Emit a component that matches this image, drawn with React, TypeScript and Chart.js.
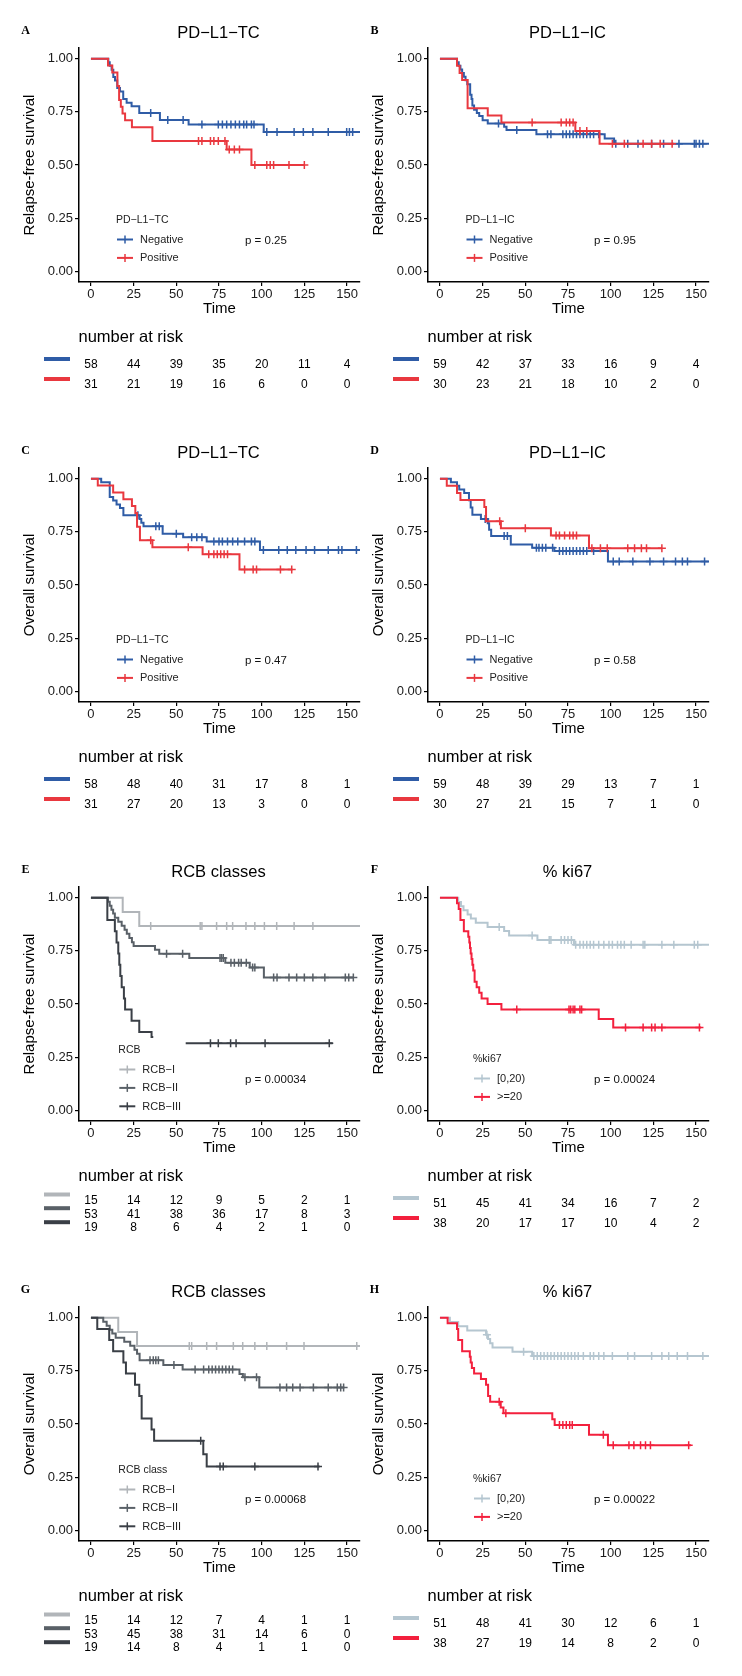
import React, { useEffect, useRef } from "react";
import { Chart, registerables } from "chart.js";

Chart.register(...registerables);

const FONT = '"Liberation Sans", Arial, Helvetica, sans-serif';
const SERIF = '"Liberation Serif", "DejaVu Serif", serif';

const X_TICKS = [0, 25, 50, 75, 100, 125, 150];
const Y_TICKS = [0, 0.25, 0.5, 0.75, 1];
const RISK_TIMES = [0, 25, 50, 75, 100, 125, 150];

const BLUE = "#2f5ca6";
const RED = "#e9383f";
const KI_LO = "#b5c6d0";
const KI_HI = "#f3203d";
const RCB1 = "#b1b5b9";
const RCB2 = "#596067";
const RCB3 = "#3a3f46";

// ---------- Panel A : PD-L1-TC, relapse-free ----------
const A_NEG_T = [0, 10.2, 11, 12.1, 13.1, 14.1, 15.4, 17, 18.9, 20.9, 23.8, 28.3, 40.4, 57.2, 101.2, 160];
const A_NEG_S = [1, 0.983, 0.966, 0.948, 0.914, 0.897, 0.862, 0.845, 0.81, 0.793, 0.776, 0.745, 0.712, 0.69, 0.655, 0.655];
const A_NEG_CENSOR = [35, 45, 54, 65, 74.6, 77, 79.5, 82, 84.6, 87, 89.5, 91.2, 94, 95.5, 103, 109, 119, 124.4, 130, 139, 149.8, 151.4, 153.3];
const A_NEG_RISK = [58, 44, 39, 35, 20, 11, 4];
const A_POS_T = [0, 10, 12.5, 15.5, 16.5, 17.5, 18.5, 20, 24, 36, 79.5, 94, 125];
const A_POS_S = [1, 0.968, 0.935, 0.871, 0.806, 0.774, 0.742, 0.71, 0.677, 0.613, 0.573, 0.5, 0.5];
const A_POS_CENSOR = [63, 65, 70, 72, 74.6, 78.5, 81, 84, 87, 96, 103, 105, 107, 116, 125];
const A_POS_RISK = [31, 21, 19, 16, 6, 0, 0];

// ---------- Panel B : PD-L1-IC, relapse-free ----------
const B_NEG_T = [0, 10, 11, 12, 13, 14, 15, 16, 17.7, 18.5, 19, 20, 21.6, 23, 25, 28, 37.6, 39, 56.5, 96.5, 102, 160];
const B_NEG_S = [1, 0.983, 0.966, 0.949, 0.932, 0.915, 0.898, 0.88, 0.83, 0.81, 0.78, 0.76, 0.745, 0.73, 0.71, 0.695, 0.68, 0.665, 0.645, 0.625, 0.6, 0.6];
const B_NEG_CENSOR = [34.3, 45, 63, 65, 72, 74, 76, 78, 80, 82, 84, 86, 88, 90, 93, 103, 110, 116, 124, 131, 140, 149, 150, 152, 154];
const B_NEG_RISK = [59, 42, 37, 33, 16, 9, 4];
const B_POS_T = [0, 10, 11.5, 13, 16.2, 28, 36, 79.3, 93.5, 137];
const B_POS_S = [1, 0.967, 0.933, 0.9, 0.767, 0.733, 0.7, 0.66, 0.6, 0.6];
const B_POS_CENSOR = [54, 71, 74, 76, 78, 82, 86, 101, 108, 119, 124, 129, 136];
const B_POS_RISK = [30, 23, 21, 18, 10, 2, 0];

// ---------- Panel C : PD-L1-TC, overall ----------
const C_NEG_T = [0, 6, 11, 13, 15, 17, 19, 28.5, 29.5, 30.8, 42, 54, 67.8, 99, 160];
const C_NEG_S = [1, 0.983, 0.914, 0.897, 0.879, 0.862, 0.828, 0.81, 0.793, 0.776, 0.741, 0.724, 0.705, 0.665, 0.665];
const C_NEG_CENSOR = [27.5, 38, 40, 50, 59, 62, 65, 72, 75, 77, 80, 83, 86, 90, 94, 96, 101, 110, 115, 120, 126, 131, 139, 145, 147, 155.5];
const C_NEG_RISK = [58, 48, 40, 31, 17, 8, 1];
const C_POS_T = [0, 4, 13, 19, 24, 26, 27, 28.7, 36, 65.4, 87, 118];
const C_POS_S = [1, 0.968, 0.935, 0.903, 0.871, 0.839, 0.774, 0.71, 0.677, 0.645, 0.573, 0.573];
const C_POS_CENSOR = [35, 57, 69, 72, 74, 76, 78, 80, 90, 95, 97, 111, 117.6];
const C_POS_RISK = [31, 27, 20, 13, 3, 0, 0];

// ---------- Panel D : PD-L1-IC, overall ----------
const D_NEG_T = [0, 6.4, 10, 11.3, 14.2, 17, 18, 19, 24, 28, 28.8, 30, 41.5, 54, 67, 98.4, 160];
const D_NEG_S = [1, 0.983, 0.966, 0.949, 0.932, 0.898, 0.864, 0.83, 0.81, 0.79, 0.76, 0.73, 0.69, 0.675, 0.66, 0.61, 0.61];
const D_NEG_CENSOR = [26.5, 37.6, 39.5, 56.5, 58, 60, 62, 66, 70, 72, 74, 76, 78, 80, 82, 84, 86, 90, 101.5, 105, 113, 123, 131, 138, 142, 145, 155];
const D_NEG_RISK = [59, 48, 39, 29, 13, 7, 1];
const D_POS_T = [0, 4, 10, 12, 26, 27, 35.7, 65, 87.3, 130];
const D_POS_S = [1, 0.967, 0.933, 0.9, 0.867, 0.8, 0.767, 0.733, 0.673, 0.673];
const D_POS_CENSOR = [35, 50, 68, 70, 73, 76, 78, 80, 89, 94, 98, 110, 114, 118, 121, 130];
const D_POS_RISK = [30, 27, 21, 15, 7, 1, 0];

// ---------- Panel E : RCB classes, relapse-free ----------
const E_R1_T = [0, 18.6, 28.3, 160];
const E_R1_S = [1, 0.933, 0.867, 0.867];
const E_R1_CENSOR = [35, 64, 65, 73.6, 79.5, 83, 90.8, 96, 101.6, 108.8, 119, 130];
const E_R1_RISK = [15, 14, 12, 9, 5, 2, 1];
const E_R2_T = [0, 10, 11, 12, 13, 14, 16, 18, 19.7, 21, 22.5, 24, 25, 37.5, 40, 57.6, 78.7, 93, 101.3, 153.7];
const E_R2_S = [1, 0.981, 0.962, 0.943, 0.925, 0.906, 0.887, 0.868, 0.849, 0.83, 0.81, 0.79, 0.773, 0.755, 0.736, 0.716, 0.694, 0.672, 0.625, 0.625];
const E_R2_CENSOR = [44.3, 53.7, 75.6, 76.5, 77.5, 82, 84, 86.5, 88, 91, 94.7, 96, 107, 109, 116, 120.5, 125, 130, 137, 149, 151, 153.7];
const E_R2_RISK = [53, 41, 38, 36, 17, 8, 3];
const E_R3_T = [0, 9.6, 14, 15, 16, 16.6, 17.2, 18, 19.3, 20, 23.8, 28.3, 35.5, 36.5, 46, 55.5, 141.6];
const E_R3_S = [1, 0.895, 0.842, 0.789, 0.737, 0.684, 0.632, 0.579, 0.526, 0.474, 0.421, 0.368, 0.345, 0.345, null, 0.316, 0.316];
const E_R3_CENSOR = [70, 74.6, 81.8, 85, 102, 139.6];
const E_R3_RISK = [19, 8, 6, 4, 2, 1, 0];

// ---------- Panel F : % ki67, relapse-free ----------
const F_LO_T = [0, 10.7, 12.3, 13.8, 16.2, 18.1, 21, 27.9, 37.6, 40.5, 57.1, 78.5, 160];
const F_LO_S = [1, 0.98, 0.96, 0.941, 0.921, 0.902, 0.882, 0.862, 0.843, 0.822, 0.801, 0.779, 0.779];
const F_LO_CENSOR = [34.7, 54, 64, 65, 71, 73, 75, 77, 79.5, 82, 84, 86, 88, 90, 93, 96, 99, 101, 104, 106, 108, 112, 119, 120, 130, 137, 149, 151];
const F_LO_RISK = [51, 45, 41, 34, 16, 7, 2];
const F_HI_T = [0, 10, 11, 12, 14, 16.6, 17.2, 17.6, 18, 18.5, 19, 19.5, 20.3, 21.5, 23, 24.4, 27.9, 36, 93, 101.5, 153];
const F_HI_S = [1, 0.974, 0.947, 0.895, 0.842, 0.816, 0.789, 0.763, 0.737, 0.711, 0.684, 0.658, 0.605, 0.579, 0.553, 0.526, 0.5, 0.474, 0.43, 0.39, 0.39];
const F_HI_CENSOR = [45, 75.6, 76.6, 78, 79, 82, 83, 108.7, 119, 124, 126, 130, 152];
const F_HI_RISK = [38, 20, 17, 17, 10, 4, 2];

// ---------- Panel G : RCB classes, overall ----------
const G_R1_T = [0, 16, 27, 160];
const G_R1_S = [1, 0.933, 0.867, 0.867];
const G_R1_CENSOR = [57.6, 59, 67.8, 73.6, 83.4, 88.9, 96, 103, 114.6, 124.8, 155.7];
const G_R1_RISK = [15, 14, 12, 7, 4, 1, 1];
const G_R2_T = [0, 7.2, 9.2, 11, 12.5, 14.5, 19.5, 23, 25.5, 27, 28.5, 42.4, 53.7, 87, 89, 98.6, 148];
const G_R2_S = [1, 0.981, 0.962, 0.943, 0.925, 0.906, 0.887, 0.868, 0.849, 0.83, 0.8, 0.777, 0.756, 0.735, 0.72, 0.672, 0.672];
const G_R2_CENSOR = [34.6, 36.5, 38, 39.5, 48.6, 61, 66, 69, 71, 73, 75, 77, 79, 81, 83, 90.2, 97, 110.7, 114.6, 118.2, 122.5, 130.3, 139, 144.3, 146.3, 148];
const G_R2_RISK = [53, 45, 38, 31, 14, 6, 0];
const G_R3_T = [0, 3.7, 10.7, 13, 19, 20.5, 25.8, 28.3, 29.7, 35.5, 37, 65.8, 67.8, 134];
const G_R3_S = [1, 0.947, 0.895, 0.842, 0.789, 0.737, 0.684, 0.632, 0.526, 0.474, 0.421, 0.358, 0.3, 0.3];
const G_R3_CENSOR = [64.3, 75.6, 77.5, 96, 133];
const G_R3_RISK = [19, 14, 8, 4, 1, 1, 0];

// ---------- Panel H : % ki67, overall ----------
const H_LO_T = [0, 5.8, 10.7, 16, 27, 28.2, 29.4, 30.8, 42.5, 54, 160];
const H_LO_S = [1, 0.98, 0.96, 0.94, 0.92, 0.9, 0.88, 0.86, 0.84, 0.82, 0.82];
const H_LO_CENSOR = [27.5, 49, 55, 57, 59, 61, 63, 65, 67, 69, 71, 73, 75, 77, 79, 81, 84, 88, 90, 93, 96, 101, 110, 114, 124, 130, 134, 139, 145, 154];
const H_LO_RISK = [51, 48, 41, 30, 12, 6, 1];
const H_HI_T = [0, 4.5, 10, 10.7, 13, 17.5, 18, 18.7, 20, 24, 27, 28.2, 29.4, 35.6, 37.2, 65.8, 67.2, 87.3, 98.4, 147];
const H_HI_S = [1, 0.974, 0.947, 0.895, 0.842, 0.816, 0.789, 0.763, 0.737, 0.711, 0.684, 0.632, 0.605, 0.577, 0.55, 0.522, 0.495, 0.45, 0.4, 0.4];
const H_HI_CENSOR = [34.7, 38.6, 70, 72, 74, 76, 77.5, 95.7, 101.5, 110.7, 113.6, 117.5, 120.4, 123.3, 145.7];
const H_HI_RISK = [38, 27, 19, 14, 8, 2, 0];

type Curve = {
  label: string;
  color: string;
  t: number[];
  s: (number | null)[];
  censor: number[];
  risk: number[];
};

type Panel = {
  letter: string;
  title: string;
  yTitle: string;
  legendTitle: string;
  legendX: number;
  pValue: string;
  left: number;
  top: number;
  curves: Curve[];
};

const RFS = "Relapse-free survival";
const OS = "Overall survival";

const PANELS: Panel[] = [
  {
    letter: "A", title: "PD\u2212L1\u2212TC", yTitle: RFS, legendTitle: "PD\u2212L1\u2212TC", legendX: 116, pValue: "0.25", left: 0, top: 0,
    curves: [
      { label: "Negative", color: BLUE, t: A_NEG_T, s: A_NEG_S, censor: A_NEG_CENSOR, risk: A_NEG_RISK },
      { label: "Positive", color: RED, t: A_POS_T, s: A_POS_S, censor: A_POS_CENSOR, risk: A_POS_RISK },
    ],
  },
  {
    letter: "B", title: "PD\u2212L1\u2212IC", yTitle: RFS, legendTitle: "PD\u2212L1\u2212IC", legendX: 116.5, pValue: "0.95", left: 349, top: 0,
    curves: [
      { label: "Negative", color: BLUE, t: B_NEG_T, s: B_NEG_S, censor: B_NEG_CENSOR, risk: B_NEG_RISK },
      { label: "Positive", color: RED, t: B_POS_T, s: B_POS_S, censor: B_POS_CENSOR, risk: B_POS_RISK },
    ],
  },
  {
    letter: "C", title: "PD\u2212L1\u2212TC", yTitle: OS, legendTitle: "PD\u2212L1\u2212TC", legendX: 116, pValue: "0.47", left: 0, top: 420,
    curves: [
      { label: "Negative", color: BLUE, t: C_NEG_T, s: C_NEG_S, censor: C_NEG_CENSOR, risk: C_NEG_RISK },
      { label: "Positive", color: RED, t: C_POS_T, s: C_POS_S, censor: C_POS_CENSOR, risk: C_POS_RISK },
    ],
  },
  {
    letter: "D", title: "PD\u2212L1\u2212IC", yTitle: OS, legendTitle: "PD\u2212L1\u2212IC", legendX: 116.5, pValue: "0.58", left: 349, top: 420,
    curves: [
      { label: "Negative", color: BLUE, t: D_NEG_T, s: D_NEG_S, censor: D_NEG_CENSOR, risk: D_NEG_RISK },
      { label: "Positive", color: RED, t: D_POS_T, s: D_POS_S, censor: D_POS_CENSOR, risk: D_POS_RISK },
    ],
  },
  {
    letter: "E", title: "RCB classes", yTitle: RFS, legendTitle: "RCB", legendX: 118.3, pValue: "0.00034", left: 0, top: 839,
    curves: [
      { label: "RCB\u2212I", color: RCB1, t: E_R1_T, s: E_R1_S, censor: E_R1_CENSOR, risk: E_R1_RISK },
      { label: "RCB\u2212II", color: RCB2, t: E_R2_T, s: E_R2_S, censor: E_R2_CENSOR, risk: E_R2_RISK },
      { label: "RCB\u2212III", color: RCB3, t: E_R3_T, s: E_R3_S, censor: E_R3_CENSOR, risk: E_R3_RISK },
    ],
  },
  {
    letter: "F", title: "% ki67", yTitle: RFS, legendTitle: "%ki67", legendX: 124, pValue: "0.00024", left: 349, top: 839,
    curves: [
      { label: "[0,20)", color: KI_LO, t: F_LO_T, s: F_LO_S, censor: F_LO_CENSOR, risk: F_LO_RISK },
      { label: ">=20", color: KI_HI, t: F_HI_T, s: F_HI_S, censor: F_HI_CENSOR, risk: F_HI_RISK },
    ],
  },
  {
    letter: "G", title: "RCB classes", yTitle: OS, legendTitle: "RCB class", legendX: 118.3, pValue: "0.00068", left: 0, top: 1259,
    curves: [
      { label: "RCB\u2212I", color: RCB1, t: G_R1_T, s: G_R1_S, censor: G_R1_CENSOR, risk: G_R1_RISK },
      { label: "RCB\u2212II", color: RCB2, t: G_R2_T, s: G_R2_S, censor: G_R2_CENSOR, risk: G_R2_RISK },
      { label: "RCB\u2212III", color: RCB3, t: G_R3_T, s: G_R3_S, censor: G_R3_CENSOR, risk: G_R3_RISK },
    ],
  },
  {
    letter: "H", title: "% ki67", yTitle: OS, legendTitle: "%ki67", legendX: 124, pValue: "0.00022", left: 349, top: 1259,
    curves: [
      { label: "[0,20)", color: KI_LO, t: H_LO_T, s: H_LO_S, censor: H_LO_CENSOR, risk: H_LO_RISK },
      { label: ">=20", color: KI_HI, t: H_HI_T, s: H_HI_S, censor: H_HI_CENSOR, risk: H_HI_RISK },
    ],
  },
];

// survival value of a step curve at time x (lookup in the read-off steps)
function survAt(t: number[], s: (number | null)[], x: number): number | null {
  let v: number | null = null;
  for (let i = 0; i < t.length; i++) {
    if (t[i] <= x) v = s[i];
  }
  return v;
}

const CANVAS_W = 371;
const CANVAS_H = 420;

const decorPlugin = {
  id: "kmDecor",
  afterDraw(chart: any, _args: any, opts: any) {
    const p: Panel = opts.panel;
    if (!p) return;
    const ctx: CanvasRenderingContext2D = chart.ctx;
    const ca = chart.chartArea;
    const xs = chart.scales.x;
    ctx.save();
    ctx.textBaseline = "middle";

    // panel letter
    ctx.fillStyle = "#000";
    ctx.textAlign = "center";
    ctx.font = `bold 12px ${SERIF}`;
    ctx.fillText(p.letter, 25.5, 31);

    // title
    ctx.font = `16.5px ${FONT}`;
    ctx.fillText(p.title, (ca.left + ca.right) / 2 - 1, 33);

    // legend
    const n = p.curves.length;
    const titleY = n === 3 ? 211.5 : 220.5;
    ctx.textAlign = "left";
    ctx.fillStyle = "#222";
    ctx.font = `10.5px ${FONT}`;
    ctx.fillText(p.legendTitle, p.legendX, titleY);
    p.curves.forEach((c, i) => {
      const y = titleY + 19 + i * 18.4;
      const x0 = p.legendX + 1;
      const x1 = p.legendX + 17;
      ctx.strokeStyle = c.color;
      ctx.lineWidth = 2;
      ctx.beginPath();
      ctx.moveTo(x0, y);
      ctx.lineTo(x1, y);
      ctx.stroke();
      const xm = (x0 + x1) / 2;
      ctx.lineWidth = 1.5;
      ctx.beginPath();
      ctx.moveTo(xm, y - 4);
      ctx.lineTo(xm, y + 4);
      ctx.stroke();
      ctx.fillStyle = "#222";
      ctx.font = `11px ${FONT}`;
      ctx.fillText(c.label, p.legendX + 24, y + 0.5);
    });

    // p-value
    ctx.fillStyle = "#111";
    ctx.font = `11.5px ${FONT}`;
    ctx.fillText("p = " + p.pValue, 245, 240.5);

    // risk table
    ctx.fillStyle = "#000";
    ctx.font = `16.5px ${FONT}`;
    ctx.fillText("number at risk", 78.5, 337.5);
    const textRows = n === 3 ? [362, 375.3, 389] : [364.7, 384.3];
    const barRows = n === 3 ? [355.5, 369.2, 383.2] : [359, 379];
    ctx.font = `12px ${FONT}`;
    ctx.textAlign = "center";
    p.curves.forEach((c, i) => {
      ctx.fillStyle = c.color;
      ctx.fillRect(44, barRows[i] - 2, 26, 4);
      ctx.fillStyle = "#000";
      c.risk.forEach((v, k) => {
        const x = xs.getPixelForValue(RISK_TIMES[k]);
        ctx.fillText(String(v), x, textRows[i]);
      });
    });
    ctx.restore();
  },
};

function buildConfig(p: Panel): any {
  const datasets: any[] = [];
  const n = p.curves.length;
  p.curves.forEach((c, i) => {
    datasets.push({
      type: "line",
      data: c.t.map((x, k) => ({ x, y: c.s[k] })),
      stepped: true,
      borderColor: c.color,
      backgroundColor: c.color,
      borderWidth: 2,
      pointRadius: 0,
      fill: false,
      spanGaps: false,
      order: (n - i) * 2,
    });
    datasets.push({
      type: "line",
      showLine: false,
      data: c.censor.map((x) => ({ x, y: survAt(c.t, c.s, x) })),
      pointStyle: "cross",
      pointRadius: 4,
      pointBorderWidth: 1.5,
      pointBorderColor: c.color,
      pointBackgroundColor: c.color,
      borderColor: c.color,
      order: (n - i) * 2 - 1,
    });
  });

  return {
    type: "line",
    data: { datasets },
    plugins: [decorPlugin],
    options: {
      responsive: false,
      animation: false,
      devicePixelRatio: 1,
      events: [],
      layout: { padding: { left: 0, top: 48, right: CANVAS_W - 360, bottom: CANVAS_H - 322 } },
      plugins: {
        legend: { display: false },
        title: { display: false },
        tooltip: { enabled: false },
        kmDecor: { panel: p },
      },
      scales: {
        x: {
          type: "linear",
          min: -7,
          max: 157.6,
          afterBuildTicks: (s: any) => {
            s.ticks = X_TICKS.map((v) => ({ value: v }));
          },
          afterFit: (s: any) => {
            s.height = 40;
          },
          ticks: {
            autoSkip: false,
            maxRotation: 0,
            padding: 1,
            color: "#1a1a1a",
            font: { size: 13, family: FONT },
            callback: (v: any) => String(v),
          },
          grid: {
            display: true,
            drawOnChartArea: false,
            drawTicks: true,
            tickLength: 4,
            color: "#000",
            tickColor: "#000",
            tickWidth: 1.2,
            lineWidth: 1.2,
          },
          border: { display: true, color: "#000", width: 1.5 },
          title: {
            display: true,
            text: "Time",
            color: "#000",
            font: { size: 15, family: FONT },
            padding: { top: 0, bottom: 4 },
          },
        },
        y: {
          type: "linear",
          min: -0.05,
          max: 1.05,
          afterBuildTicks: (s: any) => {
            s.ticks = Y_TICKS.map((v) => ({ value: v }));
          },
          afterFit: (s: any) => {
            s.width = 79;
          },
          ticks: {
            padding: 2,
            color: "#1a1a1a",
            font: { size: 13, family: FONT },
            callback: (v: any) => Number(v).toFixed(2),
          },
          grid: {
            display: true,
            drawOnChartArea: false,
            drawTicks: true,
            tickLength: 4,
            color: "#000",
            tickColor: "#000",
            tickWidth: 1.2,
            lineWidth: 1.2,
          },
          border: { display: true, color: "#000", width: 1.5 },
          title: {
            display: true,
            text: p.yTitle,
            color: "#000",
            font: { size: 15, family: FONT },
            padding: { top: 21, bottom: 0 },
          },
        },
      },
    },
  };
}

function KMPanel({ panel }: { panel: Panel }) {
  const ref = useRef<HTMLCanvasElement | null>(null);
  useEffect(() => {
    const canvas = ref.current;
    if (!canvas) return;
    const chart = new Chart(canvas, buildConfig(panel));
    return () => chart.destroy();
  }, [panel]);
  return (
    <canvas
      ref={ref}
      width={CANVAS_W}
      height={CANVAS_H}
      style={{ position: "absolute", left: panel.left, top: panel.top, width: CANVAS_W, height: CANVAS_H }}
    />
  );
}

export default function App() {
  return (
    <div
      style={{
        position: "absolute",
        left: 0,
        top: 0,
        width: 742,
        height: 1676,
        overflow: "hidden",
        background: "#ffffff",
      }}
    >
      {PANELS.map((p) => (
        <KMPanel key={p.letter} panel={p} />
      ))}
    </div>
  );
}
